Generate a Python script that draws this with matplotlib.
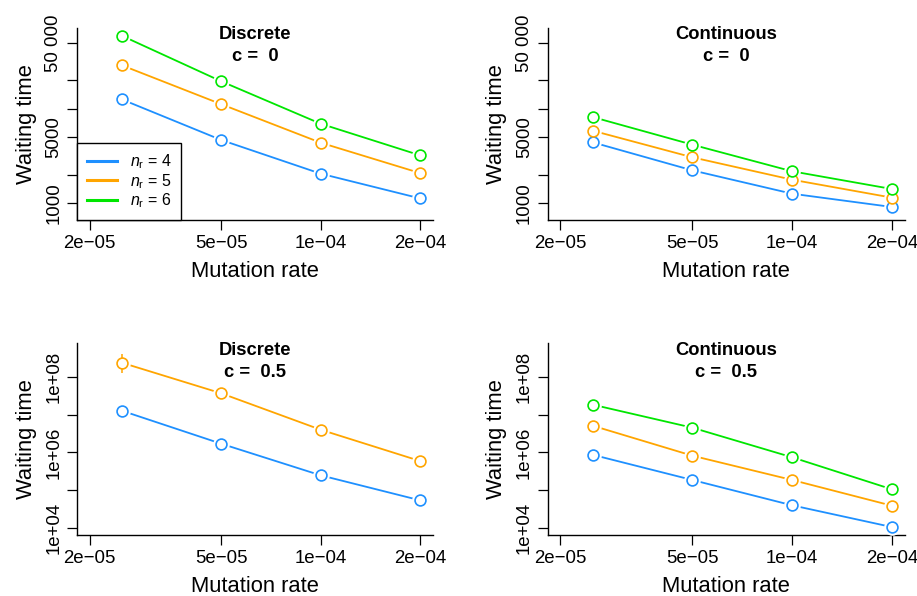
import matplotlib
matplotlib.use("Agg")
import matplotlib.pyplot as plt
import numpy as np

plt.rcParams['font.family'] = ['Liberation Sans', 'DejaVu Sans']
plt.rcParams['mathtext.fontset'] = 'custom'
plt.rcParams['mathtext.it'] = 'Liberation Sans:italic'
plt.rcParams['mathtext.rm'] = 'Liberation Sans'

# mutation rates used in every panel
mu = [2.5e-05, 5e-05, 1e-04, 2e-04]
n_r = [4, 5, 6]
colors = ["#1E90FF", "#FFA500", "#00E600"]

# waiting times, c = 0
disc_c0 = {
    4: [12600, 4670, 2050, 1120],
    5: [29000, 11200, 4370, 2080],
    6: [59700, 19600, 6950, 3210],
}
cont_c0 = {
    4: [4410, 2220, 1255, 907],
    5: [5860, 3055, 1767, 1140],
    6: [8180, 4160, 2170, 1408],
}

# c = 0.5 (discrete has no n_r = 6 line)
disc_c05 = {
    4: [1.28e7, 1.71e6, 2.49e5, 5.42e4],
    5: [2.39e8, 3.70e7, 4.02e6, 5.96e5],
}
disc_c05_lo = {
    4: [1.1e7, 1.5e6, 2.2e5, 4.9e4],
    5: [1.25e8, 2.9e7, 2.9e6, 4.6e5],
}
disc_c05_hi = {
    4: [1.5e7, 2.1e6, 2.8e5, 6.0e4],
    5: [4.07e8, 4.5e7, 5.2e6, 7.0e5],
}
cont_c05 = {
    4: [8.7e5, 1.87e5, 3.99e4, 1.06e4],
    5: [5.13e6, 8.22e5, 1.87e5, 3.90e4],
    6: [1.85e7, 4.54e6, 7.46e5, 1.06e5],
}

x_ticks = [2e-05, 5e-05, 1e-04, 2e-04]
x_labels = ["2e\u221205", "5e\u221205", "1e\u221204", "2e\u221204"]
y_ticks_c0 = [1000, 2000, 5000, 10000, 20000, 50000]
y_labels_c0 = ["1000", "", "5000", "", "", "50 000"]
y_ticks_c05 = [1e4, 1e5, 1e6, 1e7, 1e8]
y_labels_c05 = ["1e+04", "", "1e+06", "", "1e+08"]

W, H = 917, 596
fig = plt.figure(figsize=(W / 100, H / 100), dpi=100)


def make_ax(left, right, top, bottom):
    return fig.add_axes([left / W, (H - bottom) / H, (right - left) / W, (bottom - top) / H])


def style(ax, yticks, ylabels, ylim, title, ctext):
    ax.set_xscale("log")
    ax.set_yscale("log")
    ax.set_xlim(1.83e-05, 2.19e-04)
    ax.set_ylim(*ylim)
    ax.minorticks_off()
    ax.set_xticks(x_ticks)
    ax.set_xticklabels(x_labels)
    ax.set_yticks(yticks)
    ax.set_yticklabels(ylabels, rotation=90, va="center")
    for s in ["top", "right"]:
        ax.spines[s].set_visible(False)
    for s in ["left", "bottom"]:
        ax.spines[s].set_linewidth(1.0)
    ax.tick_params(axis="both", length=7.2, width=0.9, labelsize=13.4, direction="out")
    ax.tick_params(axis="x", pad=3.5)
    ax.tick_params(axis="y", pad=3.5)
    ax.set_xlabel("Mutation rate", fontsize=15.8)
    ax.set_ylabel("Waiting time", fontsize=15.8)
    ax.xaxis.set_label_coords(0.5, -0.215)
    ax.yaxis.set_label_coords(-0.143, 0.5)
    ax.xaxis.label.set_va("top")
    ax.yaxis.label.set_va("center")
    ax.text(0.5, 0.965, title, transform=ax.transAxes, ha="center", va="center",
            fontsize=13.2, fontweight="bold")
    ax.text(0.5, 0.85, ctext, transform=ax.transAxes, ha="center", va="center",
            fontsize=13.2, fontweight="bold")


def draw(ax, data, lo=None, hi=None, label=False):
    for n, col in zip(n_r, colors):
        if n not in data:
            continue
        y = data[n]
        ax.plot(mu, y, color=col, lw=1.3, zorder=2,
                label=r"$n_{\mathrm{r}}$ = %d" % n if label else None)
        ax.plot(mu, y, ls="none", marker="o", ms=12, mfc="white", mec="none", zorder=3)
        if lo is not None:
            ax.vlines(mu, lo[n], hi[n], color=col, lw=1.1, zorder=4)
        ax.plot(mu, y, ls="none", marker="o", ms=7.8, mfc="white", mec=col, mew=1.2, zorder=5)


ylim_c0 = (660, 72100)
ylim_c05 = (6530, 7.8e8)

ax1 = make_ax(77, 433, 28, 220)
draw(ax1, disc_c0, label=True)
style(ax1, y_ticks_c0, y_labels_c0, ylim_c0, "Discrete", "c =  0")
leg = ax1.legend(loc="lower left", bbox_to_anchor=(0, 0), borderaxespad=0, fontsize=11.5,
                 frameon=True, fancybox=False, edgecolor="black", framealpha=1,
                 handlelength=1.9, handletextpad=0.8, labelspacing=0.06, borderpad=0.6)
leg.get_frame().set_linewidth(1.0)
for h in leg.get_lines():
    h.set_linewidth(2.2)

ax2 = make_ax(547.7, 905, 28, 220)
draw(ax2, cont_c0)
style(ax2, y_ticks_c0, y_labels_c0, ylim_c0, "Continuous", "c =  0")

ax3 = make_ax(77, 433, 343.3, 535)
draw(ax3, disc_c05, disc_c05_lo, disc_c05_hi)
style(ax3, y_ticks_c05, y_labels_c05, ylim_c05, "Discrete", "c =  0.5")

ax4 = make_ax(547.7, 905, 343.3, 535)
draw(ax4, cont_c05)
style(ax4, y_ticks_c05, y_labels_c05, ylim_c05, "Continuous", "c =  0.5")

fig.savefig("out.png", dpi=100, facecolor="white")
